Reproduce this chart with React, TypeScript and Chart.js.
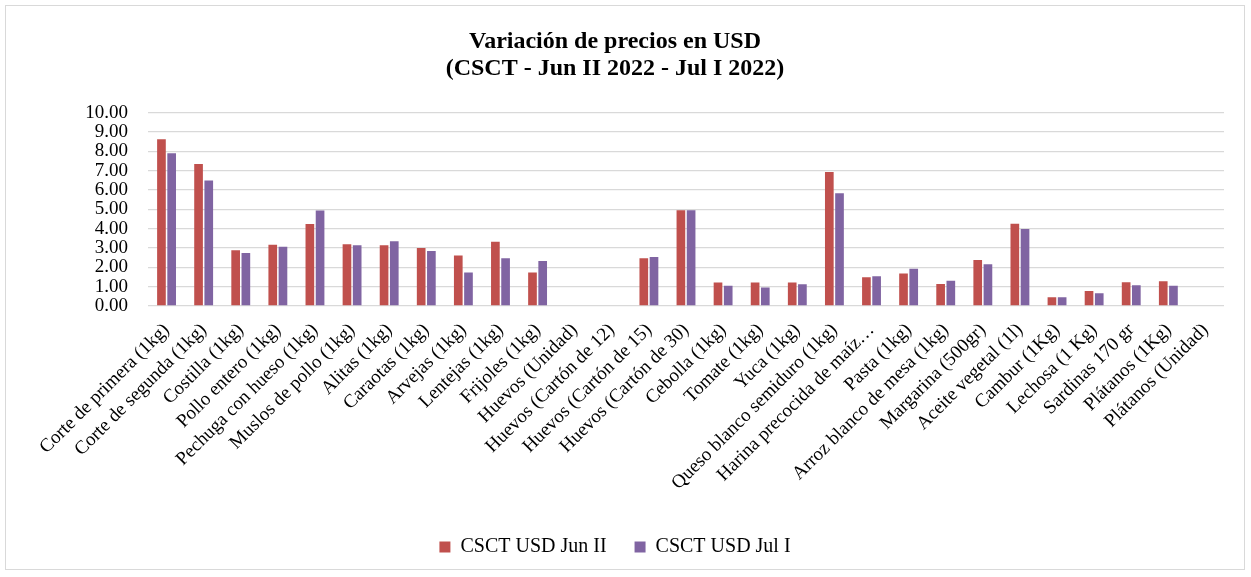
import React, { useEffect, useRef } from "react";
import { Chart, registerables } from "chart.js";

Chart.register(...registerables);

const categories: string[] = [
  "Corte de primera (1kg)",
  "Corte de segunda (1kg)",
  "Costilla (1kg)",
  "Pollo entero (1kg)",
  "Pechuga con hueso (1kg)",
  "Muslos de pollo (1kg)",
  "Alitas (1kg)",
  "Caraotas (1kg)",
  "Arvejas (1kg)",
  "Lentejas (1kg)",
  "Frijoles (1kg)",
  "Huevos (Unidad)",
  "Huevos (Cartón de 12)",
  "Huevos (Cartón de 15)",
  "Huevos (Cartón de 30)",
  "Cebolla (1kg)",
  "Tomate (1kg)",
  "Yuca (1kg)",
  "Queso blanco semiduro (1kg)",
  "Harina precocida de maíz…",
  "Pasta (1kg)",
  "Arroz blanco de mesa (1kg)",
  "Margarina (500gr)",
  "Aceite vegetal (1l)",
  "Cambur (1Kg)",
  "Lechosa (1 Kg)",
  "Sardinas 170 gr",
  "Plátanos (1Kg)",
  "Plátanos (Unidad)",
];

const junII: (number | null)[] = [
  8.63, 7.35, 2.88, 3.17, 4.24, 3.2, 3.15, 3.0, 2.61, 3.33, 1.73, null, null,
  2.47, 4.95, 1.22, 1.22, 1.22, 6.94, 1.49, 1.68, 1.14, 2.38, 4.26, 0.45,
  0.78, 1.23, 1.28, null,
];

const julI: (number | null)[] = [
  7.9, 6.49, 2.74, 3.07, 4.94, 3.14, 3.35, 2.84, 1.73, 2.47, 2.33, null, null,
  2.54, 4.95, 1.05, 0.96, 1.12, 5.83, 1.54, 1.93, 1.31, 2.16, 3.99, 0.45,
  0.66, 1.07, 1.05, null,
];

const seriesNames: string[] = ["CSCT USD Jun II", "CSCT USD Jul I"];
const titleLines: string[] = [
  "Variación de precios en USD",
  "(CSCT - Jun II 2022 - Jul I 2022)",
];

const FONT = "'Liberation Serif', 'Times New Roman', serif";

export default function App() {
  const ref = useRef<HTMLCanvasElement | null>(null);

  useEffect(() => {
    if (!ref.current) return;
    const chart = new Chart(ref.current, {
      type: "bar",
      data: {
        labels: categories,
        datasets: [
          {
            label: seriesNames[0],
            data: junII,
            backgroundColor: "#C0504D",
            barPercentage: 0.85,
            categoryPercentage: 0.55,
          },
          {
            label: seriesNames[1],
            data: julI,
            backgroundColor: "#8064A2",
            barPercentage: 0.85,
            categoryPercentage: 0.55,
          },
        ],
      },
      options: {
        responsive: false,
        animation: false,
        layout: { padding: { left: 0, right: 20, top: 0, bottom: 2 } },
        plugins: {
          title: {
            display: true,
            text: titleLines,
            color: "#000",
            font: { family: FONT, size: 24, weight: "bold", lineHeight: 1.12 },
            padding: { top: 22, bottom: 31 },
          },
          legend: {
            position: "bottom",
            labels: {
              color: "#000",
              font: { family: FONT, size: 20 },
              boxWidth: 11,
              boxHeight: 11,
              padding: 28,
            },
          },
          tooltip: { enabled: false },
        },
        scales: {
          x: {
            grid: { display: false, drawTicks: false },
            border: { display: false },
            ticks: {
              autoSkip: false,
              maxRotation: 45,
              minRotation: 45,
              color: "#000",
              padding: 13,
              font: { family: FONT, size: 19 },
            },
            afterFit: (scale: any) => {
              scale.height = 203;
            },
          },
          y: {
            min: 0,
            max: 10,
            border: { display: false },
            grid: { color: "#D9D9D9", lineWidth: 1.3, drawTicks: false },
            ticks: {
              stepSize: 1,
              autoSkip: false,
              color: "#000",
              padding: 20,
              font: { family: FONT, size: 19 },
              callback: (v: any) => Number(v).toFixed(2),
            },
            afterFit: (scale: any) => {
              scale.width = 142;
            },
          },
        },
      },
    });
    return () => chart.destroy();
  }, []);

  return (
    <div
      style={{
        position: "absolute",
        left: 5,
        top: 5,
        width: 1240,
        height: 565,
        border: "1px solid #D9D9D9",
        boxSizing: "border-box",
        background: "#fff",
      }}
    >
      <canvas ref={ref} width={1238} height={563} style={{ display: "block" }} />
    </div>
  );
}
